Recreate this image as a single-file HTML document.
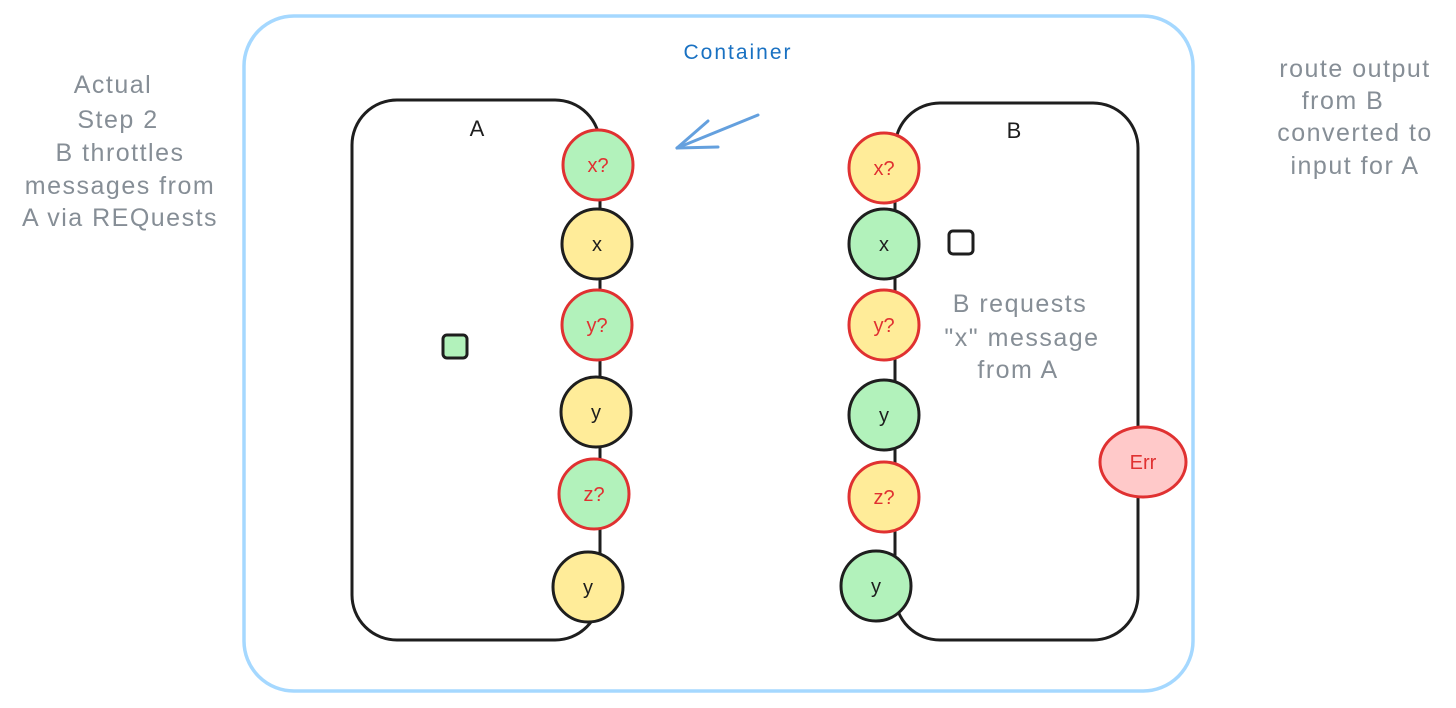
<!DOCTYPE html>
<html><head><style>
html,body{margin:0;padding:0;background:#fff;}
svg{display:block;}
text{font-family:"Comic Sans MS","Liberation Sans",sans-serif;}
</style></head><body>
<svg width="1456" height="708" viewBox="0 0 1456 708" xmlns="http://www.w3.org/2000/svg">
<rect x="244" y="16" width="949" height="675" rx="50" fill="none" stroke="#a5d8ff" stroke-width="3.5"/>
<text x="738" y="59" text-anchor="middle" font-size="21" letter-spacing="2" fill="#1971c2">Container</text>
<rect x="352" y="100" width="248" height="540" rx="45" fill="none" stroke="#1e1e1e" stroke-width="3"/>
<text x="477" y="136" text-anchor="middle" font-size="22" fill="#1e1e1e">A</text>
<rect x="895" y="103" width="243" height="537" rx="45" fill="none" stroke="#1e1e1e" stroke-width="3"/>
<text x="1014" y="138" text-anchor="middle" font-size="22" fill="#1e1e1e">B</text>
<g stroke-width="3">
<circle cx="598" cy="165" r="35" fill="#b2f2bb" stroke="#e03131"/>
<circle cx="597" cy="244" r="35" fill="#ffec99" stroke="#1e1e1e"/>
<circle cx="597" cy="325" r="35" fill="#b2f2bb" stroke="#e03131"/>
<circle cx="596" cy="412" r="35" fill="#ffec99" stroke="#1e1e1e"/>
<circle cx="594" cy="494" r="35" fill="#b2f2bb" stroke="#e03131"/>
<circle cx="588" cy="587" r="35" fill="#ffec99" stroke="#1e1e1e"/>
<circle cx="884" cy="168" r="35" fill="#ffec99" stroke="#e03131"/>
<circle cx="884" cy="244" r="35" fill="#b2f2bb" stroke="#1e1e1e"/>
<circle cx="884" cy="325" r="35" fill="#ffec99" stroke="#e03131"/>
<circle cx="884" cy="415" r="35" fill="#b2f2bb" stroke="#1e1e1e"/>
<circle cx="884" cy="497" r="35" fill="#ffec99" stroke="#e03131"/>
<circle cx="876" cy="586" r="35" fill="#b2f2bb" stroke="#1e1e1e"/>
<ellipse cx="1143" cy="462" rx="43" ry="35" fill="#ffc9c9" stroke="#e03131"/>
<rect x="443" y="335" width="24" height="23" rx="4" fill="#b2f2bb" stroke="#1e1e1e"/>
<rect x="949" y="231" width="24" height="23" rx="4" fill="#fff" stroke="#1e1e1e"/>
</g>
<g font-size="20" text-anchor="middle">
<text x="598" y="172" fill="#e03131">x?</text>
<text x="597" y="251" fill="#1e1e1e">x</text>
<text x="597" y="332" fill="#e03131">y?</text>
<text x="596" y="419" fill="#1e1e1e">y</text>
<text x="594" y="501" fill="#e03131">z?</text>
<text x="588" y="594" fill="#1e1e1e">y</text>
<text x="884" y="175" fill="#e03131">x?</text>
<text x="884" y="251" fill="#1e1e1e">x</text>
<text x="884" y="332" fill="#e03131">y?</text>
<text x="884" y="422" fill="#1e1e1e">y</text>
<text x="884" y="504" fill="#e03131">z?</text>
<text x="876" y="593" fill="#1e1e1e">y</text>
<text x="1143" y="469" fill="#e03131">Err</text>
</g>
<g stroke="#4a90d9" stroke-width="3" stroke-linecap="round" fill="none" opacity="0.85">
<line x1="758" y1="115" x2="677" y2="148"/>
<line x1="677" y1="148" x2="708" y2="121"/>
<line x1="677" y1="148" x2="718" y2="147"/>
</g>
<g font-size="25" fill="#868e96" text-anchor="middle" letter-spacing="1.5">
<text x="113" y="93">Actual</text>
<text x="118" y="128">Step 2</text>
<text x="120" y="161">B throttles</text>
<text x="120" y="194">messages from</text>
<text x="120" y="226">A via REQuests</text>
<text x="1355" y="77">route output</text>
<text x="1343" y="109">from B</text>
<text x="1355" y="141">converted to</text>
<text x="1355" y="174">input for A</text>
<text x="1020" y="312">B requests</text>
<text x="1022" y="346">"x" message</text>
<text x="1018" y="378">from A</text>
</g>
</svg>
</body></html>
